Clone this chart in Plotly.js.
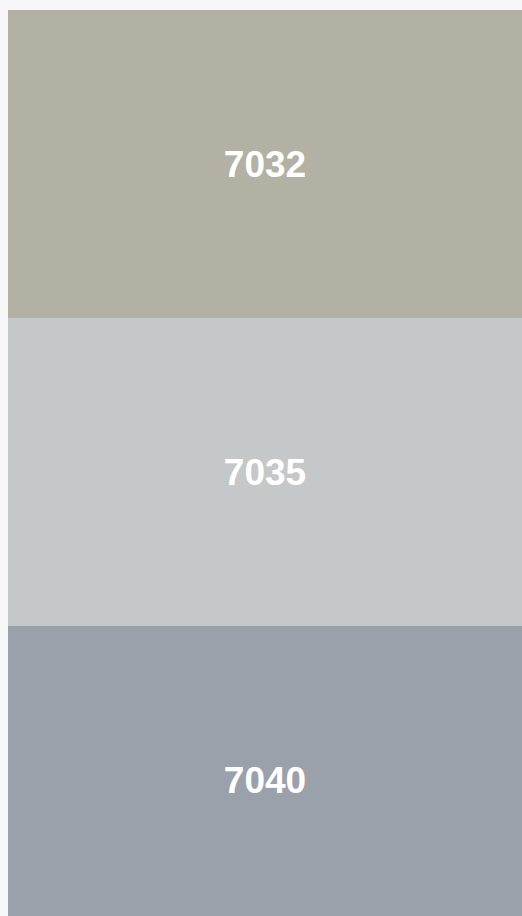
<!DOCTYPE html>
<html>
<head>
<meta charset="utf-8">
<script src="https://cdn.plot.ly/plotly-3.0.1.min.js"></script>
<style>
html,body{margin:0;padding:0;background:#f7f7f9;overflow:hidden;}
#chart{width:522px;height:916px;}
</style>
</head>
<body>
<div id="chart"></div>
<script>
const codes = ['7032', '7035', '7040'];
const swatchValues = [1, 1, 1];
const swatchColors = ['#b3b1a3', '#c4c8c8', '#9aa1aa'];

const trace = {
  type: 'bar',
  orientation: 'h',
  y: codes,
  x: swatchValues,
  text: codes,
  textposition: 'inside',
  insidetextanchor: 'middle',
  textfont: {family: 'Liberation Sans, Arial, sans-serif', size: 37, color: '#ffffff', weight: 'bold'},
  marker: {color: swatchColors, line: {width: 0}},
  hoverinfo: 'none'
};

const layout = {
  width: 522,
  height: 916,
  margin: {l: 8, r: 0, t: 10, b: 0},
  paper_bgcolor: '#f7f7f9',
  plot_bgcolor: '#f7f7f9',
  bargap: 0,
  showlegend: false,
  xaxis: {range: [0, 1], visible: false, fixedrange: true},
  yaxis: {type: 'category', range: [2.44, -0.5], visible: false, fixedrange: true}
};

Plotly.newPlot('chart', [trace], layout, {displayModeBar: false, staticPlot: true});
</script>
</body>
</html>
